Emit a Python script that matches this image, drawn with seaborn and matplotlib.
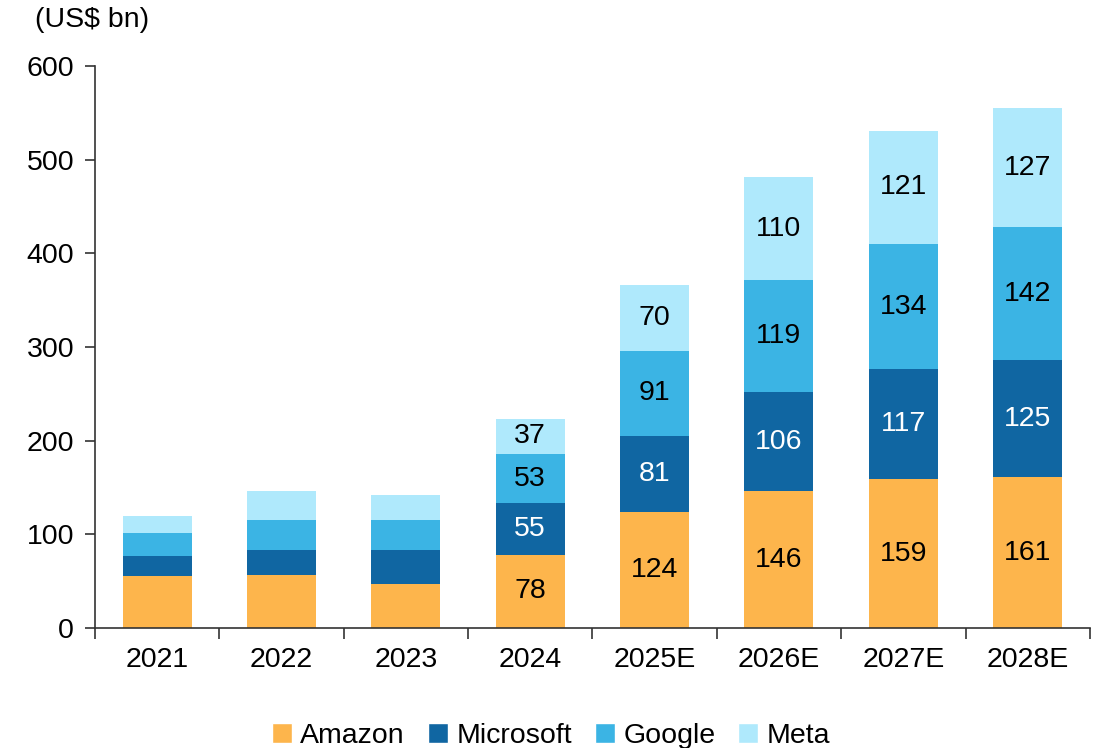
"""Stacked capex bars for the four hyperscalers (saved PNG)."""

import matplotlib

matplotlib.use("Agg")
import matplotlib.pyplot as plt
import numpy as np
import pandas as pd
import seaborn as sns
from matplotlib.patches import Patch
from matplotlib.ticker import FixedLocator

# data (US$ bn)
years = ["2021", "2022", "2023", "2024", "2025E", "2026E", "2027E", "2028E"]
amazon = [55, 57, 47, 78, 124, 146, 159, 161]
microsoft = [22, 26, 36, 55, 81, 106, 117, 125]
google = [24, 32, 32, 53, 91, 119, 134, 142]
meta = [19, 31, 27, 37, 70, 110, 121, 127]
labelled_from = 3  # values printed only from 2024 on

companies = ["Amazon", "Microsoft", "Google", "Meta"]
colors = ["#FDB54C", "#1066A2", "#3BB4E4", "#AFE9FC"]
text_colors = ["black", "white", "black", "black"]

FS = 20.5

sns.set_theme(style="white")
plt.rcParams["font.family"] = ["Liberation Sans", "DejaVu Sans"]
plt.rcParams["text.color"] = "black"
plt.rcParams["xtick.color"] = "black"
plt.rcParams["ytick.color"] = "black"

df = pd.DataFrame({"year": years, "Amazon": amazon, "Microsoft": microsoft,
                   "Google": google, "Meta": meta})
cum = df[companies].cumsum(axis=1)

fig = plt.figure(figsize=(11.02, 7.48), dpi=100)
ax = fig.add_axes([0.0862, 0.1604, 0.9028, 0.7514])

# draw cumulative totals from the top layer down so they overlap into stacks
for name, col in reversed(list(zip(companies, colors))):
    sns.barplot(x=df["year"], y=cum[name], color=col, width=0.555,
                saturation=1, ax=ax, linewidth=0)

x = np.arange(len(years))
for k, name in enumerate(companies):
    base = cum[name] - df[name]
    for i in range(labelled_from, len(years)):
        ax.text(x[i], base[i] + df[name][i] / 2, str(df[name][i]),
                ha="center", va="center", fontsize=FS, color=text_colors[k])

ax.set_xlim(-0.5, len(years) - 0.5)
ax.set_ylim(0, 600)
ax.set_yticks(range(0, 601, 100))
ax.set_xlabel("")
ax.set_ylabel("")
for s in ["top", "right"]:
    ax.spines[s].set_visible(False)
for s in ["left", "bottom"]:
    ax.spines[s].set_color("#333333")
    ax.spines[s].set_linewidth(1.2)

ax.tick_params(axis="y", which="major", length=7, width=1.2, color="#333333",
               left=True, labelsize=FS, pad=8)
ax.tick_params(axis="x", which="major", length=0, labelsize=FS, pad=14)
ax.xaxis.set_minor_locator(FixedLocator(np.arange(-0.5, len(years), 1.0)))
ax.tick_params(axis="x", which="minor", length=8, width=1.2, color="#333333",
               bottom=True)

fig.text(0.032, 0.99, "(US$ bn)", ha="left", va="top", fontsize=FS)

handles = [Patch(facecolor=c, label=n) for n, c in zip(companies, colors)]
fig.legend(handles=handles, loc="lower center", bbox_to_anchor=(0.5, -0.035),
           ncol=4, frameon=False, fontsize=FS, handlelength=0.7,
           handleheight=0.7, handletextpad=0.3, columnspacing=0.8)

fig.savefig("out.png", dpi=100)
plt.close(fig)
